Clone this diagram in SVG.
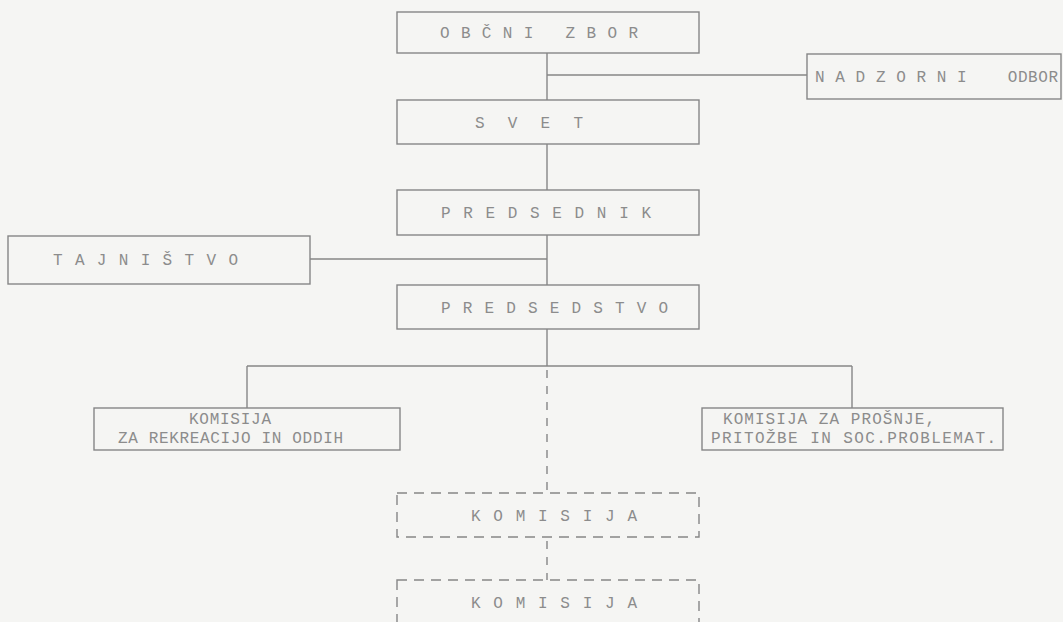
<svg xmlns="http://www.w3.org/2000/svg" width="1063" height="622" viewBox="0 0 1063 622">
<style>
.bg{fill:#f5f5f3}
.box{fill:none;stroke:#868686;stroke-width:1.4}
.dbox{fill:none;stroke:#868686;stroke-width:1.4;stroke-dasharray:10 7}
.ln{fill:none;stroke:#868686;stroke-width:1.4}
.dln{fill:none;stroke:#868686;stroke-width:1.4;stroke-dasharray:8 8}
text{font-family:"Liberation Mono","Courier New",monospace;font-size:16px;fill:#8c8c8c;white-space:pre}
</style>
<rect class="bg" x="0" y="0" width="1063" height="622"/>
<g id="connectors">
<line class="ln" x1="547" y1="53" x2="547" y2="100"/>
<line class="ln" x1="547" y1="75" x2="807" y2="75"/>
<line class="ln" x1="547" y1="144" x2="547" y2="190"/>
<line class="ln" x1="547" y1="235" x2="547" y2="285"/>
<line class="ln" x1="310" y1="259" x2="547" y2="259"/>
<line class="ln" x1="547" y1="329" x2="547" y2="366"/>
<line class="ln" x1="247" y1="366" x2="852" y2="366"/>
<line class="ln" x1="247" y1="366" x2="247" y2="408"/>
<line class="ln" x1="852" y1="366" x2="852" y2="408"/>
<line class="dln" x1="547" y1="370" x2="547" y2="493"/>
<line class="dln" x1="547" y1="541" x2="547" y2="580"/>
</g>
<g id="obcni-zbor">
<rect class="box" x="397" y="12" width="302" height="41"/>
<text x="440" y="38" textLength="198" lengthAdjust="spacing">O B Č N I   Z B O R</text>
</g>
<g id="nadzorni-odbor">
<rect class="box" x="807" y="54" width="254" height="45"/>
<text x="815" y="82" textLength="243" lengthAdjust="spacing">N A D Z O R N I    ODBOR</text>
</g>
<g id="svet">
<rect class="box" x="397" y="100" width="302" height="44"/>
<text x="475" y="128" textLength="108" lengthAdjust="spacing">S  V  E  T</text>
</g>
<g id="predsednik">
<rect class="box" x="397" y="190" width="302" height="45"/>
<text x="441" y="218" textLength="210" lengthAdjust="spacing">P R E D S E D N I K</text>
</g>
<g id="tajnistvo">
<rect class="box" x="8" y="236" width="302" height="48"/>
<text x="53" y="265" textLength="185" lengthAdjust="spacing">T A J N I Š T V O</text>
</g>
<g id="predsedstvo">
<rect class="box" x="397" y="285" width="302" height="44"/>
<text x="441" y="313" textLength="227" lengthAdjust="spacing">P R E D S E D S T V O</text>
</g>
<g id="komisija-rekreacija">
<rect class="box" x="94" y="408" width="306" height="42"/>
<text x="189" y="424" textLength="82" lengthAdjust="spacing">KOMISIJA</text>
<text x="118" y="443" textLength="225" lengthAdjust="spacing">ZA REKREACIJO IN ODDIH</text>
</g>
<g id="komisija-prosnje">
<rect class="box" x="702" y="408" width="301" height="42"/>
<text x="723" y="424" textLength="212" lengthAdjust="spacing">KOMISIJA ZA PROŠNJE,</text>
<text x="711" y="443" textLength="285" lengthAdjust="spacing">PRITOŽBE IN SOC.PROBLEMAT.</text>
</g>
<g id="komisija-1">
<rect class="dbox" x="397" y="493" width="302" height="44"/>
<text x="471" y="521" textLength="166" lengthAdjust="spacing">K O M I S I J A</text>
</g>
<g id="komisija-2">
<rect class="dbox" x="397" y="580" width="302" height="60"/>
<text x="471" y="608" textLength="166" lengthAdjust="spacing">K O M I S I J A</text>
</g>
</svg>
